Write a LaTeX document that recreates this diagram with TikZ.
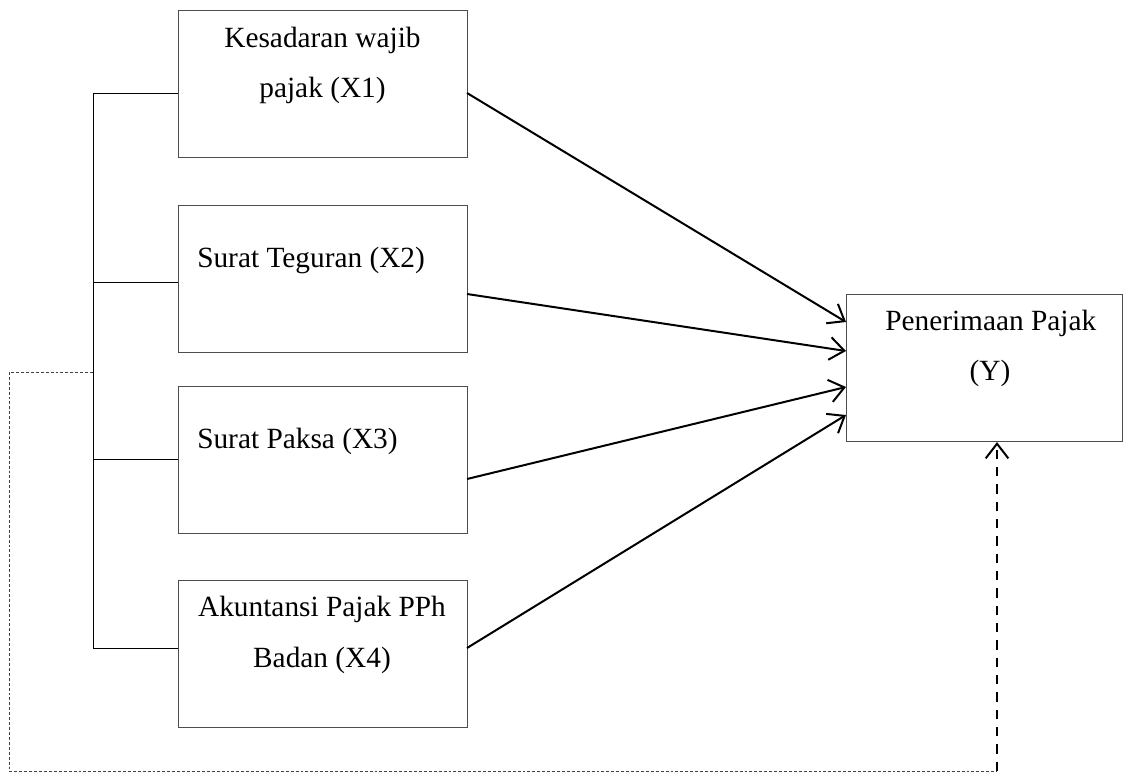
\documentclass[tikz,border=0pt]{standalone}
\usepackage{fontspec}
\setmainfont{Liberation Serif}
\usetikzlibrary{arrows.meta}
\begin{document}
\begin{tikzpicture}[x=0.75pt,y=-0.75pt,
  box/.style={draw=black!70,line width=0.8pt,rectangle,minimum width=289*0.75pt,minimum height=147*0.75pt,inner sep=0pt,anchor=north west},
  txt/.style={font=\fontsize{22}{26}\selectfont,inner sep=0pt},
  bracket/.style={draw=black,line width=0.75pt},
  arr/.style={draw=black,line width=1.5pt,-{Straight Barb[length=11pt,width=17pt,line width=1.5pt]}},
  fb/.style={draw=black!75,line width=0.75pt,dash pattern=on 2.2pt off 1.5pt},
  fbarr/.style={draw=black,line width=1.6pt,dash pattern=on 7pt off 6pt,-{Straight Barb[length=11pt,width=17pt,line width=1.5pt]}}]
\useasboundingbox (0,0) rectangle (1127,772);
% boxes
\node[box] (x1) at (178,10) {};
\node[box] (x2) at (178,205) {};
\node[box] (x3) at (178,386) {};
\node[box] (x4) at (178,580) {};
\node[box,minimum width=276*0.75pt] (y) at (846,294) {};
% texts
\node[txt,anchor=base] (t1a) at (322.5,47) {Kesadaran wajib};
\node[txt,anchor=base] (t1b) at (322.5,97) {pajak (X1)};
\node[txt,anchor=base west] (t2) at (197,267) {Surat Teguran (X2)};
\node[txt,anchor=base west] (t3) at (197,448) {Surat Paksa (X3)};
\node[txt,anchor=base] (t4a) at (322,616) {Akuntansi Pajak PPh};
\node[txt,anchor=base] (t4b) at (322,667) {Badan (X4)};
\node[txt,anchor=base west] (tya) at (885,330) {Penerimaan Pajak};
\node[txt,anchor=base] (tyb) at (990,380) {(Y)};
% bracket
\coordinate (b1) at (93,93);
\coordinate (b2) at (93,282);
\coordinate (b3) at (93,459);
\coordinate (b4) at (93,648);
\coordinate (bd) at (93,372);
\draw[bracket] (b1) -- (b4);
\draw[bracket] (b1) -- (b1 -| x1.west);
\draw[bracket] (b2) -- (b2 -| x2.west);
\draw[bracket] (b3) -- (b3 -| x3.west);
\draw[bracket] (b4) -- (b4 -| x4.west);
% arrows
\coordinate (s1) at (467,93);
\coordinate (s2) at (467,294);
\coordinate (s3) at (467,479);
\coordinate (s4) at (467,648);
\coordinate (e1) at (846,322);
\coordinate (e2) at (846,351);
\coordinate (e3) at (846,387);
\coordinate (e4) at (846,415);
\draw[arr] (s1) -- (e1);
\draw[arr] (s2) -- (e2);
\draw[arr] (s3) -- (e3);
\draw[arr] (s4) -- (e4);
% feedback
\coordinate (c1) at (9,372);
\coordinate (c2) at (9,771);
\coordinate (c3) at (997,771);
\draw[fb] (bd) -- (c1) -- (c2) -- (c3);
\draw[fbarr] (c3) -- (c3 |- y.south);
\end{tikzpicture}
\end{document}
